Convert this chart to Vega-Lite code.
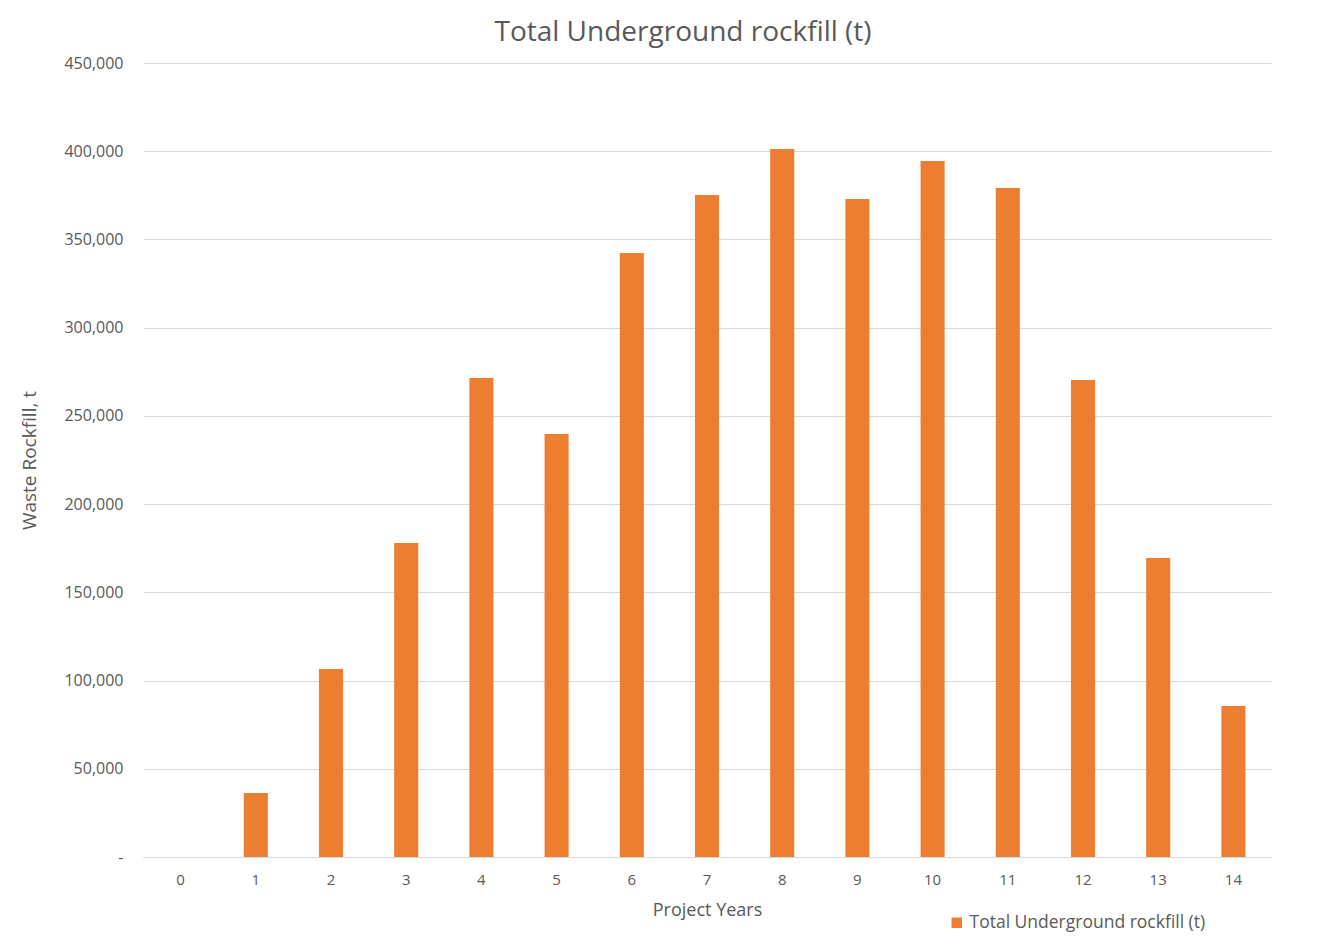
{
  "$schema": "https://vega.github.io/schema/vega-lite/v6.json",
  "width": 1128,
  "height": 794,
  "autosize": {"type": "none"},
  "padding": {"left": 143, "top": 63, "right": 50, "bottom": 90},
  "background": "white",
  "config": {
    "font": "Open Sans",
    "view": {"stroke": null}
  },
  "title": {
    "text": "Total Underground rockfill (t)",
    "fontSize": 28,
    "fontWeight": "normal",
    "color": "#595959",
    "anchor": "middle",
    "dx": -24,
    "offset": 8
  },
  "data": {
    "values": [
      {"year": "0", "series": "Total Underground rockfill (t)", "value": 0},
      {"year": "1", "series": "Total Underground rockfill (t)", "value": 36300},
      {"year": "2", "series": "Total Underground rockfill (t)", "value": 106500},
      {"year": "3", "series": "Total Underground rockfill (t)", "value": 178000},
      {"year": "4", "series": "Total Underground rockfill (t)", "value": 271500},
      {"year": "5", "series": "Total Underground rockfill (t)", "value": 239700},
      {"year": "6", "series": "Total Underground rockfill (t)", "value": 342300},
      {"year": "7", "series": "Total Underground rockfill (t)", "value": 375200},
      {"year": "8", "series": "Total Underground rockfill (t)", "value": 401300},
      {"year": "9", "series": "Total Underground rockfill (t)", "value": 372900},
      {"year": "10", "series": "Total Underground rockfill (t)", "value": 394500},
      {"year": "11", "series": "Total Underground rockfill (t)", "value": 379200},
      {"year": "12", "series": "Total Underground rockfill (t)", "value": 270300},
      {"year": "13", "series": "Total Underground rockfill (t)", "value": 169500},
      {"year": "14", "series": "Total Underground rockfill (t)", "value": 85600}
    ]
  },
  "mark": {"type": "bar"},
  "encoding": {
    "x": {
      "field": "year",
      "type": "ordinal",
      "sort": null,
      "scale": {"paddingInner": 0.68, "paddingOuter": 0.34},
      "axis": {
        "title": "Project Years",
        "titleFontSize": 18,
        "titleFontWeight": "normal",
        "titleColor": "#595959",
        "titlePadding": 14,
        "labelAngle": 0,
        "labelFontSize": 15,
        "labelColor": "#595959",
        "labelPadding": 15,
        "ticks": false,
        "domainColor": "#d9d9d9",
        "domainWidth": 1,
        "grid": false
      }
    },
    "y": {
      "field": "value",
      "type": "quantitative",
      "scale": {"domain": [0, 450000], "nice": false},
      "axis": {
        "title": "Waste Rockfill, t",
        "titleFontSize": 19,
        "titleFontWeight": "normal",
        "titleColor": "#595959",
        "titlePadding": 24,
        "values": [0, 50000, 100000, 150000, 200000, 250000, 300000, 350000, 400000, 450000],
        "labelExpr": "datum.value == 0 ? '-' : format(datum.value, ',')",
        "labelFontSize": 16,
        "labelColor": "#595959",
        "labelPadding": 20,
        "ticks": false,
        "domain": false,
        "grid": true,
        "gridColor": "#d9d9d9",
        "gridWidth": 1
      }
    },
    "color": {
      "field": "series",
      "type": "nominal",
      "scale": {"range": ["#ED7D31"]},
      "legend": {
        "title": null,
        "orient": "none",
        "legendX": 805,
        "legendY": 851,
        "symbolType": "square",
        "symbolSize": 110,
        "labelFontSize": 17.5,
        "labelColor": "#595959",
        "labelLimit": 400
      }
    }
  }
}
